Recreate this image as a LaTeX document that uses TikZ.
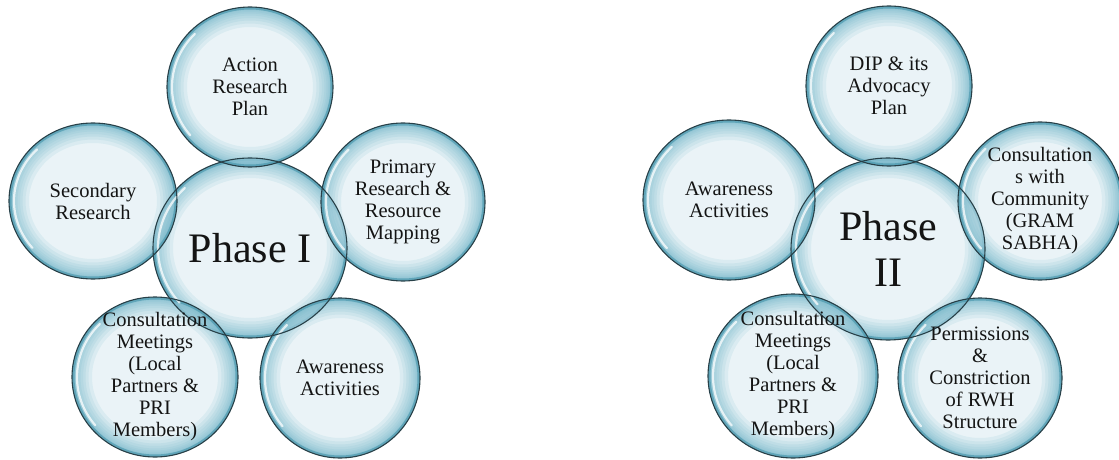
\documentclass[tikz,border=0pt]{standalone}
\usepackage{fontspec}
\setmainfont{Liberation Serif}

% glassy bubble colours
\definecolor{bubcore}{RGB}{216,234,240}
\definecolor{bubrim}{RGB}{105,177,198}
\definecolor{bubedge}{RGB}{66,146,168}
\definecolor{bubline}{RGB}{40,64,72}
\definecolor{txt}{RGB}{20,20,20}

\tikzset{
  bubblecore/.style={fill=bubcore, fill opacity=0.55},
  bubbleglow/.style={draw=bubrim, draw opacity=0.12},
  bubbleedge/.style={draw=bubedge, draw opacity=0.6, line width=5pt},
  bubbleline/.style={draw=bubline, line width=1.1pt},
  gloss/.style={draw=white, line width=2.2pt, draw opacity=0.75, line cap=round},
  bubtext/.style={align=center, text=txt, inner sep=0pt,
                  font=\fontsize{20.5}{22}\selectfont},
  phasetext/.style={align=center, text=txt, inner sep=0pt,
                  font=\fontsize{42}{46}\selectfont}
}

\begin{document}
\begin{tikzpicture}[x=1pt,y=-1pt]
\useasboundingbox (0,0) rectangle (1119,460);

% centre / radii of every bubble
\def\bubbles{%
  PA/250/248/97/90, A1/250/87/83/80, A2/93/201/84/78, A3/403/202/82/79,
  A4/155/377/83/80, A5/340/378/80/80,
  PB/888/249/97/91, B1/889/86/83/80, B2/729/200/86/80, B3/1040/201/82/79,
  B4/793/376/85/82, B5/980/378/82/80}

% translucent bodies, darkening smoothly towards the rim
\foreach \n/\x/\y/\rx/\ry in \bubbles {
  \coordinate (\n) at (\x,\y);
  \begin{scope}
    \clip (\n) ellipse[x radius=\rx, y radius=\ry];
    \fill[bubblecore] (\n) ellipse[x radius=\rx, y radius=\ry];
    \foreach \w in {40,33,27,22,17,13,10,7,5} {
      \draw[bubbleglow, line width=\w pt] (\n) ellipse[x radius=\rx, y radius=\ry];
    }
    \draw[bubbleedge] (\n) ellipse[x radius=\rx, y radius=\ry];
  \end{scope}
}
% glossy highlight on the left inner rim
\foreach \n/\x/\y/\rx/\ry in \bubbles {
  \pgfmathsetmacro\gx{\rx-5}
  \pgfmathsetmacro\gy{\ry-5}
  \draw[gloss] ([shift={(140:{\gx} and {\gy})}]\n)
    arc[start angle=140, end angle=225, x radius=\gx, y radius=\gy];
}
% outlines
\foreach \n/\x/\y/\rx/\ry in \bubbles {
  \draw[bubbleline] (\n) ellipse[x radius=\rx, y radius=\ry];
}

% Phase I
\node[phasetext] (tPA) at (PA) {Phase I};
\node[bubtext] (tA1) at (A1) {Action\\Research\\Plan};
\node[bubtext] (tA2) at (A2) {Secondary\\Research};
\node[bubtext] (tA3) at (A3) {Primary\\Research \&\\Resource\\Mapping};
\node[bubtext] (tA4) at (A4) {Consultation\\Meetings\\(Local\\Partners \&\\PRI\\Members)};
\node[bubtext] (tA5) at (A5) {Awareness\\Activities};

% Phase II
\node[phasetext] (tPB) at (PB) {Phase\\II};
\node[bubtext] (tB1) at (B1) {DIP \& its\\Advocacy\\Plan};
\node[bubtext] (tB2) at (B2) {Awareness\\Activities};
\node[bubtext] (tB3) at (B3) {Consultation\\s with\\Community\\(GRAM\\SABHA)};
\node[bubtext] (tB4) at (B4) {Consultation\\Meetings\\(Local\\Partners \&\\PRI\\Members)};
\node[bubtext] (tB5) at (B5) {Permissions\\\&\\Constriction\\of RWH\\Structure};
\end{tikzpicture}
\end{document}
